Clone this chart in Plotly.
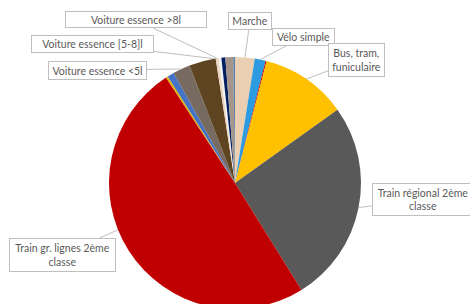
import math
import plotly.graph_objects as go

# ---- data ----
labels = ["Marche", "Vélo simple", "Vélo électrique", "Bus, tram, funiculaire",
          "Train régional 2ème classe", "Train gr. lignes 2ème classe",
          "Train régional 1ère classe", "Train gr. lignes 1ère classe",
          "Voiture essence <5l", "Voiture essence [5-8]l", "Voiture essence >8l",
          "Voiture diesel <5l", "Voiture diesel [5-8]l", "Voiture diesel >8l",
          "Voiture électrique"]
values = [9.0, 5.0, 0.5, 39.7, 93.4, 178.0, 1.0, 3.0, 8.0, 12.3, 1.4, 1.2, 1.8, 3.6, 0.8]
colors = ["#EBCFB2", "#2E9BE0", "#C00000", "#FFC000", "#595959", "#C00000",
          "#E0B000", "#4472C4", "#776A60", "#5E4420", "#EBD6C0", "#F2F2F2",
          "#002060", "#A5958A", "#5B7FA8"]

# label texts shown (index -> text)
shown_labels = {
    0: "Marche",
    1: "Vélo simple",
    3: "Bus, tram,<br>funiculaire",
    4: "Train régional 2ème<br>classe",
    5: "Train gr. lignes 2ème<br>classe",
    8: "Voiture essence &lt;5l",
    9: "Voiture essence [5-8]l",
    10: "Voiture essence &gt;8l",
}

# ---- layout constants (pixels) ----
W, H = 470, 310
CX, CY, R = 235, 183, 126
label_pos = {0: (250, 21), 1: (303, 37), 3: (356, 60), 4: (423, 199),
             5: (62, 255), 8: (97, 70), 9: (92, 44), 10: (136, 20)}
box_size = {0: (44, 18), 1: (63, 18), 3: (57, 34), 4: (102, 33),
            5: (107, 34), 8: (99, 19), 9: (123, 18), 10: (142, 17)}
anchor_frac = {5: 0.56, 9: 0.95}
PAD, BW = 2, 1

fig = go.Figure(go.Pie(
    labels=labels, values=values, sort=False, direction="clockwise", rotation=0,
    marker=dict(colors=colors, line=dict(width=0)),
    textinfo="none", hoverinfo="label+percent", showlegend=False,
    domain=dict(x=[(CX - R) / W, (CX + R) / W], y=[1 - (CY + R) / H, 1 - (CY - R) / H]),
))

total = sum(values)
cum = 0.0
starts = []
for v in values:
    starts.append(cum)
    cum += v

annotations = []
for i, txt in shown_labels.items():
    f = anchor_frac.get(i, 0.5)
    ang = (starts[i] + f * values[i]) / total * 2 * math.pi
    px = CX + R * math.sin(ang)
    py = CY - R * math.cos(ang)
    lx, ly = label_pos[i]
    bw, bh = box_size[i]
    annotations.append(dict(
        x=px / W, y=1 - py / H, xref="paper", yref="paper",
        text=txt, showarrow=True, arrowhead=0, arrowwidth=1, arrowcolor="#BFBFBF",
        ax=lx - px, ay=ly - py, standoff=0,
        width=bw - 2 * PAD - 2 * BW, height=bh - 2 * PAD - 2 * BW,
        font=dict(family="Lato, 'Open Sans', sans-serif", size=10.5, color="#595959"),
        bgcolor="white", bordercolor="#BFBFBF", borderwidth=BW, borderpad=PAD,
        align="center", valign="middle",
    ))

fig.update_layout(
    width=W, height=H, margin=dict(l=0, r=0, t=0, b=0),
    paper_bgcolor="white", plot_bgcolor="white",
    annotations=annotations,
)

fig.write_html("out.html", config={"displayModeBar": False},
               post_script="document.body.style.margin='0';document.body.style.overflow='hidden';")
